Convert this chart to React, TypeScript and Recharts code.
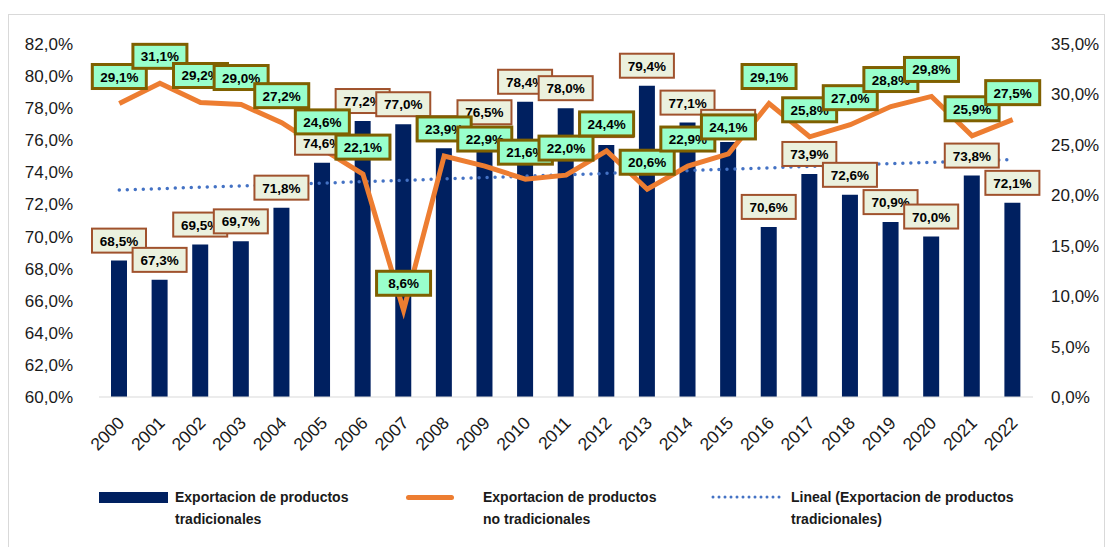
import { ComposedChart, Bar, Line, XAxis, YAxis, LabelList, ReferenceLine } from 'recharts'

const years = ['2000', '2001', '2002', '2003', '2004', '2005', '2006', '2007', '2008', '2009', '2010', '2011', '2012', '2013', '2014', '2015', '2016', '2017', '2018', '2019', '2020', '2021', '2022']
const tradicionales = [68.5, 67.3, 69.5, 69.7, 71.8, 74.6, 77.2, 77.0, 75.5, 76.5, 78.4, 78.0, 75.7, 79.4, 77.1, 75.9, 70.6, 73.9, 72.6, 70.9, 70.0, 73.8, 72.1]
const noTradicionales = [29.1, 31.1, 29.2, 29.0, 27.2, 24.6, 22.1, 8.6, 23.9, 22.9, 21.6, 22.0, 24.4, 20.6, 22.9, 24.1, 29.1, 25.8, 27.0, 28.8, 29.8, 25.9, 27.5]
// linear trend of tradicionales, read at both ends
const trendStart = 72.9
const trendEnd = 74.8
const leftTicks = [60, 62, 64, 66, 68, 70, 72, 74, 76, 78, 80, 82]
const rightTicks = [0, 5, 10, 15, 20, 25, 30, 35]

const data = years.map((year, i) => ({ year, trad: tradicionales[i], noTrad: noTradicionales[i] }))

const fmt = (v: number) => v.toFixed(1).replace('.', ',') + '%'
const FONT = '"Liberation Sans", Arial, sans-serif'

function BarTag({ x, y, width, value }: any) {
  const cx = Number(x) + Number(width) / 2
  const cy = Number(y) - 20
  return (
    <g>
      <rect x={cx - 27} y={cy - 12} width={54} height={24} fill="#EBF1DE" stroke="#A0522D" strokeWidth={2} />
      <text x={cx} y={cy + 5} textAnchor="middle" fontFamily={FONT} fontWeight="bold" fontSize={13.5} fill="#000">
        {fmt(value)}
      </text>
    </g>
  )
}

function LineTag({ x, y, value }: any) {
  const cx = Number(x)
  const cy = Number(y) - 27
  return (
    <g>
      <rect x={cx - 27} y={cy - 12} width={54} height={24} fill="#99FFCC" stroke="#7F6000" strokeWidth={3} />
      <text x={cx} y={cy + 5} textAnchor="middle" fontFamily={FONT} fontWeight="bold" fontSize={13.5} fill="#000">
        {fmt(value)}
      </text>
    </g>
  )
}

function YearTick({ x, y, payload }: any) {
  return (
    <text transform={`translate(${x + 6},${y + 27}) rotate(-45)`} textAnchor="end" fontFamily={FONT} fontSize={17.5} fill="#1a1a1a">
      {payload.value}
    </text>
  )
}

const legendText = { position: 'absolute' as const, fontFamily: FONT, fontWeight: 'bold' as const, fontSize: 14, lineHeight: '22px', color: '#1a1a1a' }

export default function App() {
  return (
    <div style={{ position: 'relative', marginTop: 6, width: 1095, height: 540, border: '1px solid #d9d9d9', background: '#fff' }}>
      <ComposedChart width={1095} height={442} data={data} margin={{ top: 29, right: 11, left: 0, bottom: 0 }}>
        <XAxis
          dataKey="year"
          axisLine={{ stroke: '#d9d9d9' }}
          tickLine={false}
          tickSize={0}
          tickMargin={0}
          interval={0}
          height={60}
          tick={<YearTick />}
        />
        <YAxis
          yAxisId="left"
          domain={[60, 82]}
          ticks={leftTicks}
          tickFormatter={fmt}
          axisLine={false}
          tickLine={false}
          tickSize={0}
          tickMargin={26}
          width={90}
          tick={{ fontFamily: FONT, fontSize: 17, fill: '#1a1a1a' }}
        />
        <YAxis
          yAxisId="right"
          orientation="right"
          domain={[0, 35]}
          ticks={rightTicks}
          tickFormatter={fmt}
          axisLine={false}
          tickLine={false}
          tickSize={0}
          tickMargin={18}
          width={60}
          tick={{ fontFamily: FONT, fontSize: 17, fill: '#1a1a1a', textAnchor: 'start' }}
        />
        <Bar yAxisId="left" dataKey="trad" fill="#002060" barSize={16} isAnimationActive={false}>
          <LabelList dataKey="trad" content={<BarTag />} />
        </Bar>
        <ReferenceLine
          yAxisId="left"
          segment={[{ x: years[0], y: trendStart }, { x: years[years.length - 1], y: trendEnd }]}
          stroke="#4472C4"
          strokeWidth={3.5}
          strokeDasharray="0 8"
          strokeLinecap="round"
        />
        <Line
          yAxisId="right"
          dataKey="noTrad"
          stroke="#ED7D31"
          strokeWidth={5}
          dot={false}
          activeDot={false}
          isAnimationActive={false}
        >
          <LabelList dataKey="noTrad" content={<LineTag />} />
        </Line>
      </ComposedChart>

      <div style={{ position: 'absolute', left: 90, top: 477, width: 69, height: 11, background: '#002060' }} />
      <div style={{ ...legendText, left: 166, top: 471 }}>Exportacion de productos<br />tradicionales</div>

      <div style={{ position: 'absolute', left: 397, top: 480, width: 48, height: 5, borderRadius: 3, background: '#ED7D31' }} />
      <div style={{ ...legendText, left: 474, top: 471 }}>Exportacion de productos<br />no tradicionales</div>

      <svg style={{ position: 'absolute', left: 702, top: 478 }} width={72} height={8}>
        <line x1={2} y1={4} x2={70} y2={4} stroke="#4472C4" strokeWidth={3} strokeDasharray="0 6" strokeLinecap="round" />
      </svg>
      <div style={{ ...legendText, left: 782, top: 471 }}>Lineal (Exportacion de productos<br />tradicionales)</div>
    </div>
  )
}
